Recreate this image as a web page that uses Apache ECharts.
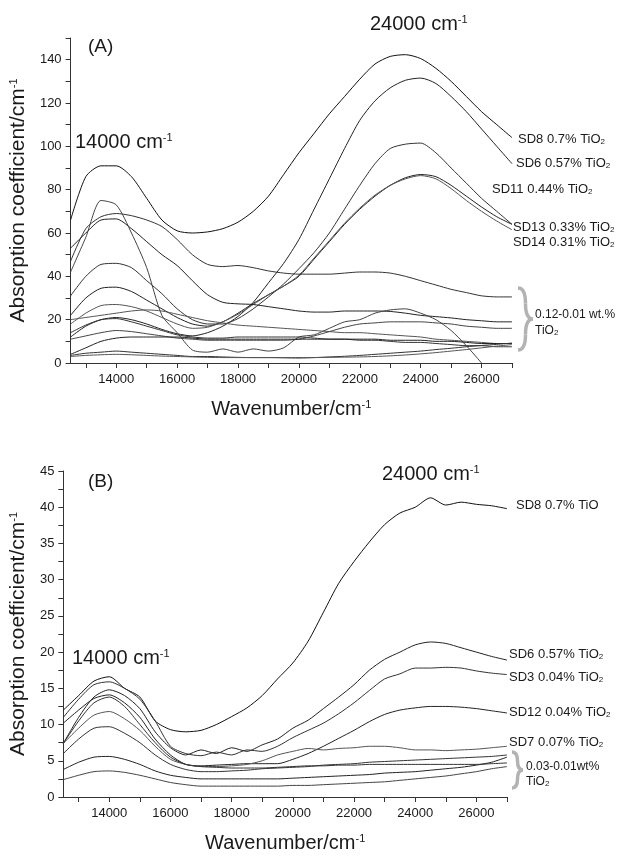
<!DOCTYPE html>
<html>
<head>
<meta charset="utf-8">
<script src="https://cdn.jsdelivr.net/npm/echarts@6/dist/echarts.min.js"></script>
<style>
  html, body { margin: 0; padding: 0; background: #fff; }
  #chart { width: 619px; height: 858px; }
</style>
</head>
<body>
<div id="chart"></div>
<script>
// wavenumber grid (cm-1), shared by all curves
var wn = [12500, 13000, 13500, 14000, 14500, 15000, 15500, 16000, 16500, 17000,
  17500, 18000, 18500, 19000, 19500, 20000, 20500, 21000, 21500, 22000,
  22500, 23000, 23500, 24000, 24500, 25000, 25500, 26000, 26500, 27000]

// panel (A)
var sd8A = [66, 86, 91, 91, 86, 76, 66, 61, 60, 60.5, 62, 65, 70, 77, 87, 97, 106, 115, 123, 131, 138, 141.5, 142.3, 140.5, 136, 130, 123, 116, 110, 104]
var sd6A = [12, 17, 20, 21, 20, 18, 15.5, 13.5, 12.5, 14, 17, 21.5, 28, 37, 46, 57, 71, 85, 99, 112, 121, 127, 130.5, 131.5, 129, 123, 116, 108, 100, 92]
var sd11A = [31, 40, 45.5, 46, 44, 38, 32, 25, 20, 18, 18, 20.5, 25, 30.5, 36.5, 43.5, 51, 60, 71, 82, 92, 99, 101, 101.5, 97, 90, 83, 76, 70, 64]
var sd13A = [22, 30, 34.5, 35, 33, 29, 25, 21, 18, 17, 19, 23, 27.5, 31.5, 35.5, 40, 48, 56, 64, 71, 77, 82, 85.5, 87, 86, 82, 77, 72, 67.5, 64]
var sd14A = [18, 23, 26.5, 27, 26, 24, 21, 18, 16, 16.5, 19, 22.5, 27, 31.5, 35.5, 40.5, 48.5, 56.5, 64.5, 71.5, 77.5, 82, 85, 86.5, 85, 80.5, 75, 70, 65.5, 61.5]
var lowA1 = [47, 62, 67.5, 69, 68, 66, 63, 57, 50, 45.5, 44.5, 45, 44, 42.5, 41.5, 41, 41, 41, 41.5, 42, 42, 41.5, 40, 38, 36, 34, 32.5, 31, 30.5, 30.5]
var lowA2 = [53, 60, 66, 66.5, 62, 56, 50, 45, 38, 31.5, 28, 27.3, 27, 26, 25, 24, 23.5, 23.5, 24, 24, 24, 23.8, 23, 22, 21.4, 20.8, 20, 19.5, 19, 19]
var lowA3 = [42, 58, 75, 73, 60, 44, 22, 14, 6, 5, 6.5, 5, 6.5, 5.5, 7, 12, 13, 16, 19, 20, 23, 24.5, 25, 23, 20, 15, 8, 0, null, null]
var lowA4 = [14, 17.5, 20, 20.5, 19, 17, 15, 13, 12, 11.5, 11.5, 12, 12, 12, 12, 12, 11.5, 11, 11, 10.5, 10.5, 10, 9.5, 9.5, 9, 8.5, 8, 8, 7.5, 7.5]
var lowA5 = [20, 21, 22, 23, 24, 24.5, 24, 22.5, 21, 19.5, 18.5, 17.5, 17, 16.5, 16, 15.5, 15, 14.5, 14, 14, 13.5, 13, 12.5, 12, 11, 10.5, 10, 9.5, 9, 9]
var lowA6 = [11, 12.5, 14, 15, 14.5, 13.5, 12.5, 11.5, 11, 10.5, 10.5, 10.5, 10.5, 10.5, 10.5, 11, 12.5, 14.5, 16.5, 18, 18.5, 19, 19, 19, 18.5, 18, 17, 16.5, 16, 16]
var lowA7 = [4, 7, 10, 11.5, 12, 12, 12, 12, 11.5, 11, 11, 11, 11, 11, 11, 11, 11, 11, 11, 11, 11, 10.5, 10.5, 10.5, 10, 10, 9.5, 9, 9, 9]
var lowA8 = [3.5, 4.5, 5, 5.5, 5, 4.5, 4, 3.5, 3, 3, 2.8, 2.6, 2.5, 2.5, 2.4, 2.3, 2.5, 2.8, 3.1, 3.5, 4, 4.5, 5, 5.5, 6.2, 6.8, 7.5, 8.1, 8.6, 9.2]
var lowA9 = [3, 3.5, 3.8, 4, 3.8, 3.5, 3.2, 3, 2.8, 2.6, 2.5, 2.5, 2.5, 2.5, 2.5, 2.5, 2.5, 2.6, 2.7, 2.8, 3, 3.3, 3.7, 4.2, 4.8, 5.5, 6.2, 7, 7.8, 8.5]

// panel (B)
var sd8B = [12, 14, 16, 16.6, 15, 13.8, 10.5, 9.3, 9, 9.2, 10, 11.1, 12.3, 14, 16.3, 18.5, 21.5, 25.5, 29.5, 32.5, 35.2, 37.6, 39.2, 40, 41.3, 40.3, 40.7, 40.4, 40.2, 39.8]
var sd6B = [7.4, 11, 13.8, 14.8, 14, 12.2, 9, 6.8, 5.8, 6.5, 6, 6.8, 6.3, 7.2, 8, 9.5, 10.6, 12.2, 13.8, 15.5, 17.5, 19, 20, 21, 21.4, 21.2, 20.6, 20, 19.4, 18.9]
var sd3B = [11, 13.5, 15.5, 15.9, 15, 13.5, 10.5, 7, 6, 5.7, 6.2, 5.8, 6.5, 6.3, 7, 8.2, 9.2, 10.2, 11.5, 13, 14.7, 16.3, 17, 17.8, 17.8, 17.9, 17.8, 17.4, 17.1, 16.9]
var sd12B = [10.2, 12, 13.6, 14.1, 13, 11, 8, 5.8, 4.5, 4.3, 4.4, 4.5, 4.6, 4.6, 4.6, 5.2, 6, 7, 8.1, 9.2, 10.4, 11.4, 12, 12.3, 12.5, 12.5, 12.4, 12.2, 11.9, 11.6]
var sd7B = [7.4, 9.5, 11.3, 11.8, 10.8, 9.2, 7, 5.2, 4.5, 4.2, 4.2, 4.3, 4.5, 5, 5.8, 6.3, 6.7, 6.5, 6.7, 6.8, 7, 7, 6.8, 6.5, 6.5, 6.4, 6.5, 6.6, 6.8, 7]
var lowB1 = [6, 8, 9.5, 9.7, 8.8, 7.5, 5.8, 4.5, 3.8, 3.5, 3.5, 3.6, 3.7, 3.9, 4, 4.1, 4.2, 4.4, 4.5, 4.6, 4.8, 4.9, 5, 5.1, 5.2, 5.3, 5.4, 5.5, 5.6, 5.8]
var lowB2 = [3.8, 4.8, 5.5, 5.6, 5.2, 4.5, 3.6, 3, 2.7, 2.5, 2.5, 2.5, 2.5, 2.5, 2.5, 2.6, 2.7, 2.8, 2.9, 3, 3.1, 3.3, 3.4, 3.5, 3.7, 3.9, 4.1, 4.4, 4.8, 5.5]
var lowB3 = [2.4, 3, 3.5, 3.6, 3.4, 3, 2.5, 2, 1.7, 1.5, 1.5, 1.5, 1.5, 1.5, 1.5, 1.6, 1.6, 1.7, 1.8, 1.9, 2, 2.1, 2.3, 2.5, 2.7, 2.9, 3.2, 3.5, 3.9, 4.2]
var lowB4 = [7.4, 10.5, 13, 13.8, 12.5, 10, 7.5, 5.5, 4.5, 4.2, 4.1, 4, 4, 4, 4.1, 4.2, 4.3, 4.3, 4.4, 4.4, 4.5, 4.5, 4.5, 4.5, 4.5, 4.5, 4.5, 4.5, 4.6, 4.7]

var xTicks = [13000, 14000, 15000, 16000, 17000, 18000, 19000, 20000, 21000, 22000, 23000, 24000, 25000, 26000, 27000]
var xLabels = [14000, 16000, 18000, 20000, 22000, 24000, 26000]

var FONT = '"Liberation Sans", Arial, sans-serif'
var INK = '#1a1a1a'

var seriesA = [sd8A, sd6A, sd11A, sd13A, sd14A, lowA1, lowA2, lowA3, lowA4, lowA5, lowA6, lowA7, lowA8, lowA9]
var seriesB = [sd8B, sd6B, sd3B, sd12B, sd7B, lowB1, lowB2, lowB3, lowB4]
var greys = ['#111', '#222', '#333', '#222', '#555', '#333', '#222', '#444', '#333', '#555', '#444', '#222', '#333', '#555']

function mkSeries(arr, idx) {
  return arr.map(function (ys, i) {
    return {
      type: 'line',
      xAxisIndex: idx,
      yAxisIndex: idx,
      showSymbol: false,
      smooth: 0.25,
      animation: false,
      lineStyle: { width: 1, color: greys[i % greys.length] },
      data: wn.map(function (x, j) { return [x, ys[j]] })
    }
  })
}

function xAxisOpt(idx) {
  return {
    type: 'value', gridIndex: idx, min: 12500, max: 27000,
    name: '{a|Wavenumber/cm}{s|-1}', nameLocation: 'middle', nameGap: 36,
    nameTextStyle: {
      rich: {
        a: { fontSize: 20, fontFamily: FONT, color: INK },
        s: { fontSize: 11, fontFamily: FONT, color: INK, verticalAlign: 'top' }
      }
    },
    splitLine: { show: false },
    axisLine: { lineStyle: { color: '#333', width: 1 } },
    axisTick: { customValues: xTicks, length: 5, lineStyle: { color: '#333' } },
    axisLabel: {
      customValues: xLabels, fontSize: 13, fontFamily: FONT, color: INK, margin: 10,
      formatter: function (v) { return String(v) }
    }
  }
}

function yAxisOpt(idx, max, step, labelStep, gap) {
  return {
    type: 'value', gridIndex: idx, min: 0, max: max, interval: step,
    name: '{a|Absorption coefficient/cm}{s|-1}', nameLocation: 'middle', nameGap: gap,
    nameTextStyle: {
      rich: {
        a: { fontSize: 21, fontFamily: FONT, color: INK },
        s: { fontSize: 11, fontFamily: FONT, color: INK, verticalAlign: 'top' }
      }
    },
    splitLine: { show: false },
    axisLine: { show: true, lineStyle: { color: '#333', width: 1 } },
    axisTick: { show: true, length: 5, lineStyle: { color: '#333' } },
    axisLabel: {
      fontSize: 13, fontFamily: FONT, color: INK, margin: 9,
      formatter: function (v) { return v % labelStep === 0 ? String(v) : '' }
    }
  }
}

function txt(left, top, text, size) {
  return {
    type: 'text', left: left, top: top,
    style: {
      text: text, fill: INK,
      rich: {
        a: { fontSize: size, fontFamily: FONT, fill: INK },
        s: { fontSize: Math.round(size * 0.55), fontFamily: FONT, fill: INK, verticalAlign: 'top' },
        b: { fontSize: 8, fontFamily: FONT, fill: INK, verticalAlign: 'bottom' }
      }
    }
  }
}

// curly brace drawn as four quadratic curves
function brace(x0, x1, y0, y1) {
  var xm = (x0 + x1) / 2, ym = (y0 + y1) / 2
  var st = { fill: null, stroke: '#b3b3b3', lineWidth: 3.5 }
  var seg = function (a, b, c, d, e, f) {
    return { type: 'bezierCurve', shape: { x1: a, y1: b, cpx1: c, cpy1: d, x2: e, y2: f }, style: st }
  }
  return [
    seg(x0, y0, xm, y0, xm, (y0 + ym) / 2),
    seg(xm, (y0 + ym) / 2, xm, ym, x1, ym),
    seg(x1, ym, xm, ym, xm, (ym + y1) / 2),
    seg(xm, (ym + y1) / 2, xm, y1, x0, y1)
  ]
}

var chart = echarts.init(document.getElementById('chart'))
chart.setOption({
  backgroundColor: '#fff',
  animation: false,
  grid: [
    { left: 66, right: 107, top: 38, height: 325 },
    { left: 59, right: 112, top: 471, height: 326 }
  ],
  xAxis: [xAxisOpt(0), xAxisOpt(1)],
  yAxis: [yAxisOpt(0, 150, 10, 20, 40), yAxisOpt(1, 45, 2.5, 5, 32)],
  series: mkSeries(seriesA, 0).concat(mkSeries(seriesB, 1)),
  graphic: [
    txt(88, 37, '{a|(A)}', 19),
    txt(75, 132, '{a|14000 cm}{s|-1}', 20),
    txt(370, 14, '{a|24000 cm}{s|-1}', 20),
    txt(518, 133, '{a|SD8 0.7% TiO}{b|2}', 13),
    txt(516, 157, '{a|SD6 0.57% TiO}{b|2}', 13),
    txt(492, 183, '{a|SD11 0.44% TiO}{b|2}', 13),
    txt(513, 221, '{a|SD13 0.33% TiO}{b|2}', 13),
    txt(513, 236, '{a|SD14 0.31% TiO}{b|2}', 13),
    txt(535, 309, '{a|0.12-0.01 wt.%}', 12),
    txt(535, 325, '{a|TiO}{b|2}', 12),

    txt(88, 472, '{a|(B)}', 19),
    txt(72, 648, '{a|14000 cm}{s|-1}', 20),
    txt(382, 464, '{a|24000 cm}{s|-1}', 20),
    txt(516, 499, '{a|SD8 0.7% TiO}', 13),
    txt(509, 648, '{a|SD6 0.57% TiO}{b|2}', 13),
    txt(509, 671, '{a|SD3 0.04% TiO}{b|2}', 13),
    txt(509, 706, '{a|SD12 0.04% TiO}{b|2}', 13),
    txt(509, 736, '{a|SD7 0.07% TiO}{b|2}', 13),
    txt(526, 761, '{a|0.03-0.01wt%}', 12),
    txt(526, 776, '{a|TiO}{b|2}', 12)
  ].concat(brace(518, 533, 288, 350), brace(512, 523, 752, 788))
})
</script>
</body>
</html>
